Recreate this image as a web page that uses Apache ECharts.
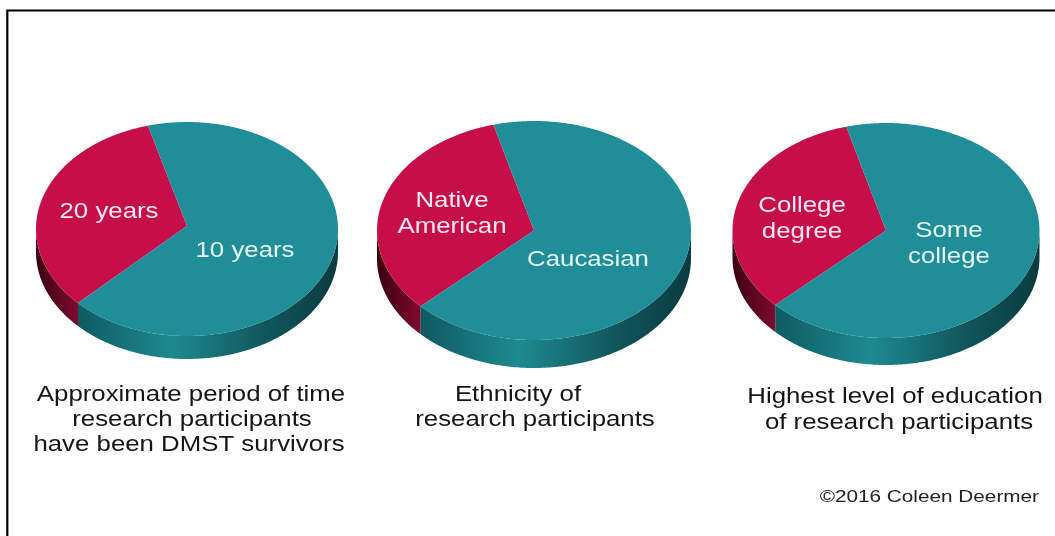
<!DOCTYPE html>
<html>
<head>
<meta charset="utf-8">
<style>html,body{margin:0;padding:0;background:#fff}#c{width:1055px;height:536px}</style>
<script src="https://cdn.jsdelivr.net/npm/echarts@6/dist/echarts.min.js"></script>
</head>
<body>
<div id="c"></div>
<script>
// ---- data ----
var categoriesA = ['20 years', '10 years'];
var categoriesB = ['Native\nAmerican', 'Caucasian'];
var categoriesC = ['College\ndegree', 'Some\ncollege'];
var valuesA = [33, 67];
var valuesB = [33, 67];
var valuesC = [33, 67];
var captionLines = [
  'Approximate period of time', 'research participants', 'have been DMST survivors',
  'Ethnicity of', 'research participants',
  'Highest level of education', 'of research participants'
];
var credit = '\u00a92016 Coleen Deermer';

// ---- layout and style ----
var FONT = '"Liberation Sans", Arial, sans-serif';
var STRETCH = 1.2;
var pieLayouts = [
  { cats: categoriesA, vals: valuesA, cx: 187, cy: 229, rx: 151, ry: 107, depth: 23, apexDy: -3,
    labels: [[109, 212], [245, 251]] },
  { cats: categoriesB, vals: valuesB, cx: 534, cy: 230.5, rx: 157, ry: 109.5, depth: 28, apexDy: 0,
    labels: [[452, 214], [588, 260]] },
  { cats: categoriesC, vals: valuesC, cx: 886, cy: 230.5, rx: 153.5, ry: 107.5, depth: 27, apexDy: 0,
    labels: [[802, 219], [949, 244]] }
];
var START_DEG = 15; // counter-clockwise from 12 o'clock
var topColors = ['#C60F4A', '#1F8E99'];
var sideStops = [
  [[0, '#3C0012'], [1, '#7E0A30']],
  [[0, '#0F5A62'], [0.36, '#1E8A90'], [0.72, '#10565C'], [1, '#0A3B40']]
];
var captionPos = [
  [191, 395], [192, 420], [189, 445],
  [518, 395], [535, 420],
  [895, 397], [899, 423]
];

function pt(p, deg, dy) { // deg: counter-clockwise from 12 o'clock
  var r = deg * Math.PI / 180;
  return [p.cx - p.rx * Math.sin(r), p.cy - p.ry * Math.cos(r) + (dy || 0)];
}

function renderSlice(params, api) {
  var p = pieLayouts[params.seriesIndex];
  var i = params.dataIndex;
  var total = p.vals.reduce(function (a, b) { return a + b; }, 0);
  var before = 0;
  for (var k = 0; k < i; k++) before += p.vals[k];
  var a0 = START_DEG + before / total * 360;
  var a1 = a0 + api.value(0) / total * 360;

  var top = [[p.cx, p.cy + p.apexDy]];
  for (var a = a0; a < a1; a += 0.5) top.push(pt(p, a));
  top.push(pt(p, a1));

  var children = [];
  // wall: only the near half of the rim (90..270 degrees) is visible
  var s0 = Math.max(a0, 90), s1 = Math.min(a1, 270);
  if (s1 > s0) {
    var upper = [], lower = [];
    for (var b = s0; b < s1; b += 0.5) { upper.push(pt(p, b)); lower.push(pt(p, b, p.depth)); }
    upper.push(pt(p, s1)); lower.push(pt(p, s1, p.depth));
    var stops = sideStops[i].map(function (s) { return { offset: s[0], color: s[1] }; });
    children.push({
      type: 'polygon',
      shape: { points: upper.concat(lower.reverse()) },
      style: { fill: new echarts.graphic.LinearGradient(0, 0, 1, 0, stops) }
    });
  }
  children.push({
    type: 'polygon',
    shape: { points: top },
    style: { fill: topColors[i] }
  });
  children.push({
    type: 'text',
    x: p.labels[i][0], y: p.labels[i][1], scaleX: STRETCH,
    style: {
      text: p.cats[i], fill: i === 0 ? '#FBE9EF' : '#E6F7F7', font: '21.5px ' + FONT,
      align: 'center', verticalAlign: 'middle', lineHeight: 26
    }
  });
  return { type: 'group', children: children };
}

var graphics = [{
  type: 'rect',
  shape: { x: 7.3, y: 10.5, width: 1200, height: 700 },
  style: { fill: 'none', stroke: '#000', lineWidth: 2.2 },
  silent: true
}];
captionLines.forEach(function (t, i) {
  graphics.push({
    type: 'text', x: captionPos[i][0], y: captionPos[i][1], scaleX: STRETCH,
    style: { text: t, font: '21.5px ' + FONT, fill: '#151515', align: 'center', verticalAlign: 'middle' }
  });
});
graphics.push({
  type: 'text', x: 1039, y: 497, scaleX: 1.22,
  style: { text: credit, font: '17px ' + FONT, fill: '#222', align: 'right', verticalAlign: 'middle' }
});

var chart = echarts.init(document.getElementById('c'), null, { renderer: 'canvas' });
chart.setOption({
  animation: false,
  backgroundColor: '#fff',
  graphic: graphics,
  series: pieLayouts.map(function (p) {
    return {
      type: 'custom',
      coordinateSystem: 'none',
      silent: true,
      renderItem: renderSlice,
      data: p.vals.map(function (v) { return [v]; })
    };
  })
});
</script>
</body>
</html>
